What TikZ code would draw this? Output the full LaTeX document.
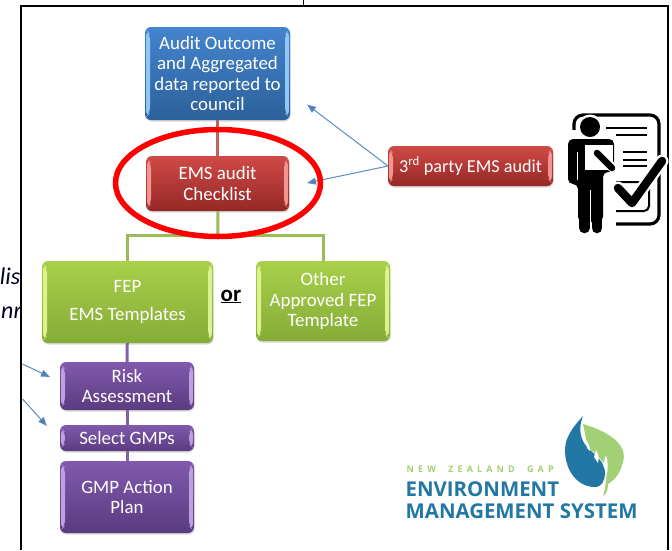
\documentclass[tikz,border=0pt]{standalone}
\usepackage{fontspec}
\setmainfont{Carlito}
\newfontfamily\logofont{Open Sans}
\usetikzlibrary{shadows,arrows.meta}
\definecolor{bluetop}{HTML}{4484CE}\definecolor{bluebot}{HTML}{2C609A}\definecolor{bluelight}{HTML}{8FC8F7}
\definecolor{redtop}{HTML}{CF4A46}\definecolor{redbot}{HTML}{952826}\definecolor{redlight}{HTML}{F29490}
\definecolor{greentop}{HTML}{A8D04A}\definecolor{greenbot}{HTML}{85AC36}\definecolor{greenlight}{HTML}{DCF290}
\definecolor{purpletop}{HTML}{8259AD}\definecolor{purplebot}{HTML}{5A3B80}\definecolor{purplelight}{HTML}{BCA0E0}
\definecolor{arrowblue}{HTML}{5B8CC4}
\definecolor{logoblue}{HTML}{2377A4}\definecolor{logogreen}{HTML}{A3D075}
\definecolor{linkred}{HTML}{C0615E}\definecolor{linkgreen}{HTML}{9BBB59}\definecolor{linkpurple}{HTML}{8064A2}
\tikzset{
  x=1pt,y=-1pt,
  bev/.style={path picture={
    \fill[#1] ([shift={(1.2pt,-3pt)}]path picture bounding box.north west) -- ([shift={(5pt,-7pt)}]path picture bounding box.north west) -- ([shift={(5pt,7pt)}]path picture bounding box.south west) -- ([shift={(1.2pt,3pt)}]path picture bounding box.south west) -- cycle;
    \fill[#1] ([shift={(-1.2pt,-3pt)}]path picture bounding box.north east) -- ([shift={(-5pt,-7pt)}]path picture bounding box.north east) -- ([shift={(-5pt,7pt)}]path picture bounding box.south east) -- ([shift={(-1.2pt,3pt)}]path picture bounding box.south east) -- cycle;
  }},
  gbox/.style n args={5}{rounded corners=6pt,minimum width=#1,minimum height=#2,inner sep=0pt,align=center,text=white,
    font=\fontsize{18.9}{20.5}\selectfont,top color=#3,bottom color=#4,bev=#5,
    drop shadow={opacity=.3,shadow xshift=0.5pt,shadow yshift=-1.5pt}},
  bluebox/.style 2 args={gbox={#1}{#2}{bluetop}{bluebot}{bluelight}},
  redbox/.style 2 args={gbox={#1}{#2}{redtop}{redbot}{redlight}},
  greenbox/.style 2 args={gbox={#1}{#2}{greentop}{greenbot}{greenlight}},
  purplebox/.style 2 args={gbox={#1}{#2}{purpletop}{purplebot}{purplelight}},
  thinarrow/.style={draw=arrowblue,line width=1pt,-{Triangle[length=9pt,width=7pt,fill=arrowblue!90!black]}},
  linkr/.style={draw=linkred,line width=3pt},
  linkg/.style={draw=linkgreen,line width=3pt},
  linkp/.style={draw=linkpurple,line width=3pt},
  frameline/.style={draw=black,line width=1.6pt},
}
\begin{document}
\begin{tikzpicture}
\useasboundingbox (0,0) rectangle (672,550);
\fill[white] (0,0) rectangle (672,550);
\begin{scope}
\clip (0,250) rectangle (21,340);
\node[font=\fontsize{24}{24}\selectfont\itshape,text=black!85!blue,anchor=east,inner sep=0pt] (lis) at (20.5,276) {lis};
\node[font=\fontsize{24}{24}\selectfont\itshape,text=black!85!blue,anchor=east,inner sep=0pt] (nr) at (22,313) {nr};
\end{scope}
\draw[frameline] (21,550) -- (21,6) -- (668,6) -- (668,550);
\draw[draw=black,line width=1pt] (303,0) -- (303,6);
% boxes
\node[bluebox={145pt}{93pt}] (audit) at (217.5,73.5) {Audit Outcome\\and Aggregated\\data reported to\\council};
\node[redbox={143pt}{55pt}] (check) at (217.5,183.5) {EMS audit\\Checklist};
\node[redbox={165pt}{40pt},font=\fontsize{18.2}{20.5}\selectfont] (third) at (470.5,166) {3\textsuperscript{rd} party EMS audit};
\node[greenbox={171pt}{82pt}] (fep) at (127.5,302) {FEP\\[8pt]EMS Templates};
\node[greenbox={134pt}{80pt}] (other) at (323,301) {Other\\Approved FEP\\Template};
\node[purplebox={134pt}{48pt}] (risk) at (127,386) {Risk\\Assessment};
\node[purplebox={134pt}{26pt}] (gmps) at (127,438) {Select GMPs};
\node[purplebox={134pt}{72pt}] (plan) at (127,497) {GMP Action\\Plan};
\node[font=\fontsize{23}{23}\selectfont\bfseries,inner sep=0pt] (ortext) at (231,296.5) {\underline{or}};
% connectors
\coordinate (bus) at (218,235.5);
\draw[linkr] (audit) -- (check);
\draw[linkg] (check) -- (bus);
\draw[linkg] (bus) -| (fep);
\draw[linkg] (bus) -| (other);
\draw[linkp] (fep) -- (risk);
\draw[linkp] (risk) -- (gmps);
\draw[linkp] (gmps) -- (plan);
\coordinate (thirdout) at (388,166);
\coordinate (toaudit) at (307,104.5);
\coordinate (tocheck) at (307,183);
\coordinate (leftA) at (22.5,364);
\coordinate (toRisk) at (50,377);
\coordinate (leftB) at (22.5,399);
\coordinate (toGmps) at (47,426);
\draw[thinarrow] (thirdout) -- (toaudit);
\draw[thinarrow] (thirdout) -- (tocheck);
\draw[thinarrow] (leftA) -- (toRisk);
\draw[thinarrow] (leftB) -- (toGmps);
\draw[red,line width=5.5pt] (218,183) ellipse [x radius=102.5,y radius=53.5];
% icon
\draw[black,line width=3.2pt,rounded corners=9pt,fill=white] (574,115) rectangle (659,224);
\foreach \yy in {128,135}{\draw[black,line width=2pt] (606,\yy) -- (647,\yy);}
\foreach \yy in {152,160,166}{\draw[black,line width=2pt] (623,\yy) -- (647,\yy);}
\draw[black,line width=2pt,rounded corners=5pt,fill=white] (610,182) rectangle (649,211);
\fill[white] (564,130) rectangle (616,238);
\fill[white] (590,127) circle (12.5);
\fill[black] (590,127) circle (10);
\fill[black,rounded corners=5pt] (568,184) -- (568,139) -- (614,139) -- (614,172) -- (603,172) -- (603,222) -- (578,222) -- (578,184) -- cycle;
\draw[black,line cap=round,line width=10.5pt] (584.5,215) -- (584.5,228);
\draw[black,line cap=round,line width=10.5pt] (597,215) -- (597,228);
\draw[white,line width=1pt] (590.7,190) -- (590.7,234);
\draw[white,line width=.9pt] (577,152) -- (577,180);
\fill[white] (585,145) rectangle (613,170);
\draw[white,line width=9.5pt,line cap=round] (597,153) -- (613,168);
\draw[black,line width=6.5pt,line cap=round] (597,153) -- (612,168);
\draw[white,line width=13pt,line cap=round,line join=round] (618,188) -- (632,203) -- (662,161);
\draw[black,line width=8.5pt,line cap=round,line join=round] (618,188) -- (632,203) -- (662,161);
% logo
\fill[logogreen] (583,424) .. controls (610,432) and (628,445) .. (623,462) .. controls (620,475) and (613,481) .. (608,484) .. controls (608,490) and (606,495) .. (603,496) .. controls (606,488) and (606,480) .. (605,472) -- (588,448) -- cycle;
\draw[white,line width=1.2pt] (583,418) .. controls (580,430) and (582,442) .. (589,449) .. controls (597,457) and (606,463) .. (606,474) .. controls (606,478) and (605,483) .. (604,486);
\fill[logoblue] (583,416) .. controls (572,428) and (565,438) .. (565,450) .. controls (565,470) and (577,487) .. (595,487) .. controls (602,487) and (605,480) .. (605,473) .. controls (605,462) and (596,456) .. (588,448) .. controls (580,440) and (578,428) .. (583,416) -- cycle;
\fill[white] (586,440) .. controls (589,444) and (590,447) .. (590,451) -- (587,448) -- cycle;
\fill[white] (596,450) .. controls (599,455) and (599,459) .. (598,463) -- (594,457) -- cycle;
\fill[white] (606,455) .. controls (608,461) and (608,467) .. (607,474) -- (603,465) -- cycle;
\node[font=\logofont\bfseries\fontsize{9}{9}\selectfont,text=logogreen,anchor=west,inner sep=0pt] (lognz) at (406.5,469) {\hbox to 147pt{N\hfil E\hfil W\hfil\hfil\hfil Z\hfil E\hfil A\hfil L\hfil A\hfil N\hfil D\hfil\hfil\hfil G\hfil A\hfil P}};
\node[font=\logofont\bfseries\fontsize{20.4}{20.4}\selectfont,text=logoblue,anchor=west,inner sep=0pt] (logenv) at (405.5,489) {ENVIRONMENT};
\node[font=\logofont\bfseries\fontsize{20.4}{20.4}\selectfont,text=logoblue,anchor=west,inner sep=0pt] (logmgmt) at (405.5,511.5) {MANAGEMENT SYSTEM};
\end{tikzpicture}
\end{document}
